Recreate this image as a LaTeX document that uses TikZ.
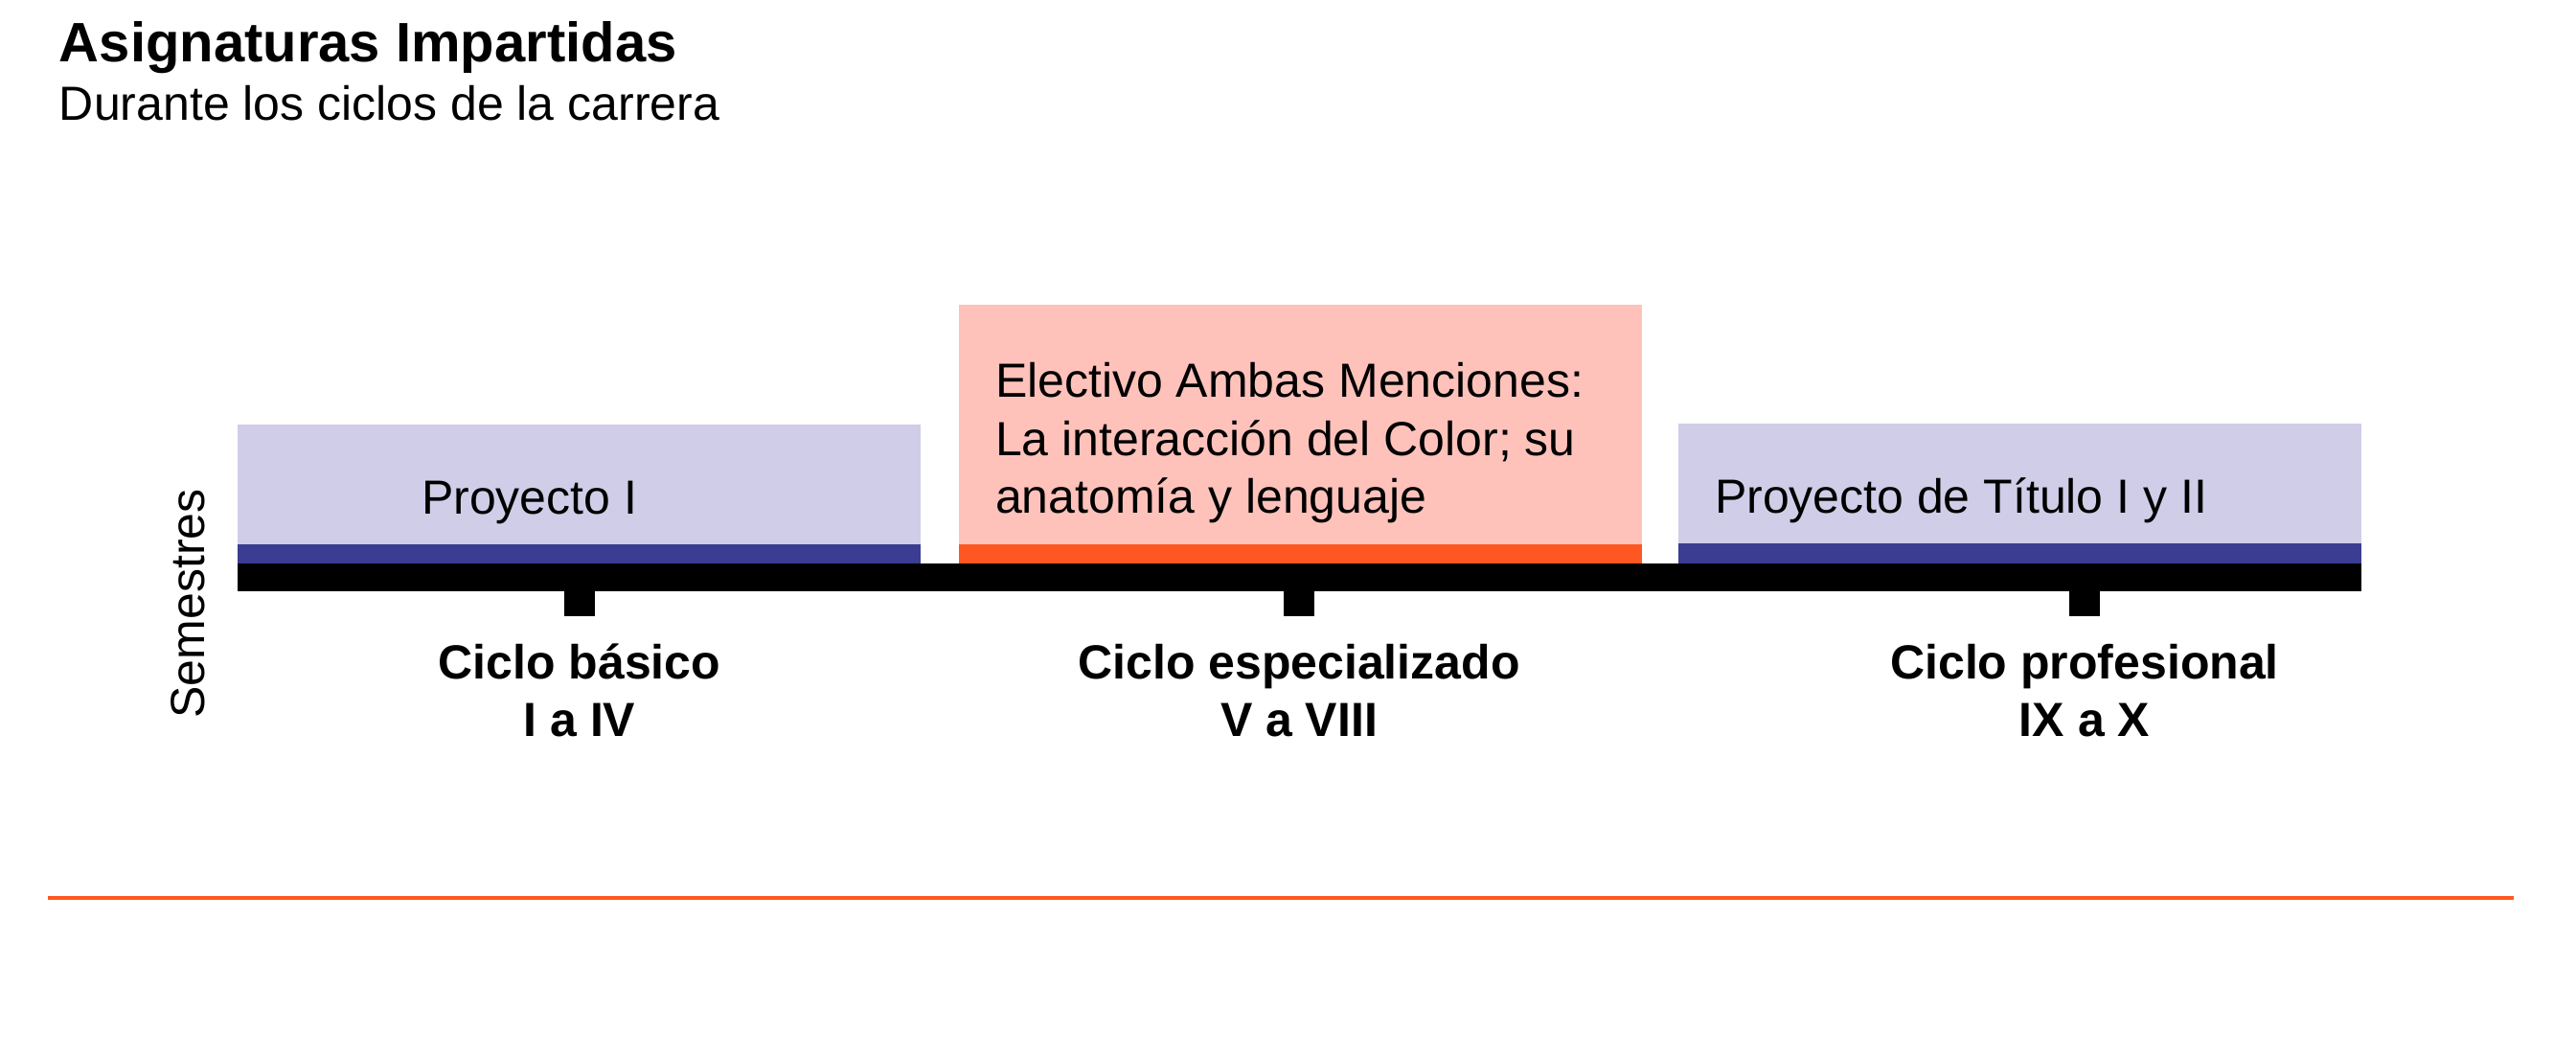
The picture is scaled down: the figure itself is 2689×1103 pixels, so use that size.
\documentclass[tikz,border=0pt]{standalone}
\usepackage{fontspec}
\setmainfont{Liberation Sans}
\definecolor{lav}{RGB}{208,205,232}
\definecolor{navy}{RGB}{58,61,145}
\definecolor{pinkbox}{RGB}{254,194,187}
\definecolor{orng}{RGB}{255,87,34}
\begin{document}
\begin{tikzpicture}[x=0.25pt,y=-0.25pt,
  txt/.style={inner sep=0pt,outer sep=0pt,font=\fontsize{12.5}{15}\selectfont},
  btxt/.style={inner sep=0pt,outer sep=0pt,font=\fontsize{12.5}{15}\selectfont\bfseries},
  ttl/.style={inner sep=0pt,outer sep=0pt,font=\fontsize{14.5}{17}\selectfont\bfseries},
  tickbar/.style={fill=black}]
\useasboundingbox (0,0) rectangle (2689,1103);
% title
\node[ttl,anchor=base west] (title) at (62,65) {Asignaturas Impartidas};
\node[txt,anchor=base west] (subtitle) at (62,125) {Durante los ciclos de la carrera};
% boxes
\fill[lav] (248,443) rectangle (961,568);
\fill[navy] (248,568) rectangle (961,588);
\fill[pinkbox] (1001,318) rectangle (1714,568);
\fill[orng] (1001,568) rectangle (1714,588);
\fill[lav] (1752,442) rectangle (2465,567);
\fill[navy] (1752,567) rectangle (2465,588);
% axis bar and ticks
\fill[black] (248,588) rectangle (2465,617);
\fill[tickbar] (589,616) rectangle (621,643);
\fill[tickbar] (1340,616) rectangle (1372,643);
\fill[tickbar] (2160,616) rectangle (2192,643);
% box texts
\node[txt,anchor=base west] (p1) at (440,536) {Proyecto I};
\node[txt,anchor=base west] (e1) at (1039,414) {Electivo Ambas Menciones:};
\node[txt,anchor=base west] (e2) at (1039,475) {La interacción del Color; su};
\node[txt,anchor=base west] (e3) at (1039,535) {anatomía y lenguaje};
\node[txt,anchor=base west] (p2) at (1790,535) {Proyecto de Título I y II};
% axis label
\node[txt,rotate=90,anchor=base] (sem) at (213,630) {Semestres};
% cycle labels
\node[btxt,anchor=base] (c1a) at (605,708) {Ciclo básico};
\node[btxt,anchor=base] (c1b) at (605,768) {I a IV};
\node[btxt,anchor=base] (c2a) at (1356,708) {Ciclo especializado};
\node[btxt,anchor=base] (c2b) at (1356,768) {V a VIII};
\node[btxt,anchor=base] (c3a) at (2176,708) {Ciclo profesional};
\node[btxt,anchor=base] (c3b) at (2176,768) {IX a X};
% bottom rule
\coordinate (la) at (50,937);
\coordinate (lb) at (2624,937);
\draw[orng,line width=1.1pt] (la) -- (lb);
\end{tikzpicture}
\end{document}
